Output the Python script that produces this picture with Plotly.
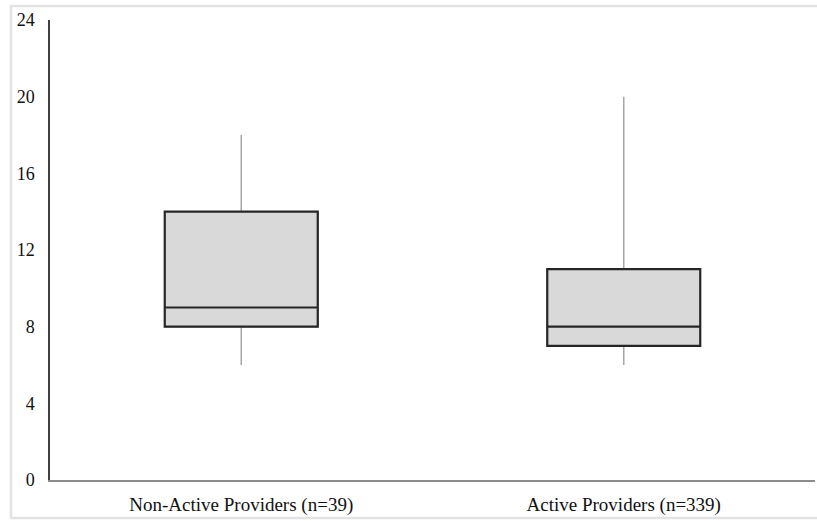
import plotly.graph_objects as go

# Summary statistics for each provider group
categories = ["Non-Active Providers (n=39)", "Active Providers (n=339)"]
lower_whisker = [6, 6]
q1 = [8, 7]
median = [9, 8]
q3 = [14, 11]
upper_whisker = [18, 20]

y_ticks = [0, 4, 8, 12, 16, 20, 24]

W, H = 817, 521
ML, MR, MT, MB = 50, 2, 20, 41
PW, PH = W - ML - MR, H - MT - MB

fig = go.Figure()

# Whiskers (thin grey), drawn as a full box underneath
fig.add_trace(go.Box(
    x=categories, q1=q1, median=median, q3=q3,
    lowerfence=lower_whisker, upperfence=upper_whisker,
    width=0.4, whiskerwidth=0,
    line=dict(color="#a6a6a6", width=1.5),
    fillcolor="#d9d9d9", boxpoints=False, hoverinfo="skip",
    showlegend=False,
))

# Box body with dark outline and median
fig.add_trace(go.Box(
    x=categories, q1=q1, median=median, q3=q3,
    lowerfence=q1, upperfence=q3,
    width=0.4, whiskerwidth=0,
    line=dict(color="#262626", width=2.2),
    fillcolor="#d9d9d9", boxpoints=False,
    showlegend=False,
))

def px_x(px):
    return (px - ML) / PW

def px_y(py):
    return 1 - (py - MT) / PH

# Light frame around the figure
fig.add_shape(
    type="rect", xref="paper", yref="paper",
    x0=px_x(11), x1=px_x(830), y0=px_y(518), y1=px_y(6),
    line=dict(color="#e3e3e3", width=2.5), fillcolor="rgba(0,0,0,0)",
    layer="below",
)

fig.update_layout(
    width=W, height=H,
    margin=dict(l=ML, r=MR, t=MT, b=MB),
    plot_bgcolor="white", paper_bgcolor="white",
    font=dict(family="Liberation Serif", size=19, color="#111111"),
    boxmode="overlay",
    xaxis=dict(
        type="category", range=[-0.5, 1.5],
        showgrid=False, zeroline=False,
        showline=True, linecolor="#8c8c8c", linewidth=2,
        ticks="", ticklabelstandoff=6, tickfont=dict(size=19),
        fixedrange=True,
    ),
    yaxis=dict(
        range=[0, 24], tickvals=y_ticks, showgrid=False, zeroline=False,
        showline=True, linecolor="#404040", linewidth=1.5,
        ticks="", ticklabelstandoff=10, tickfont=dict(size=18),
        fixedrange=True,
    ),
)

fig.write_html("out.html")
